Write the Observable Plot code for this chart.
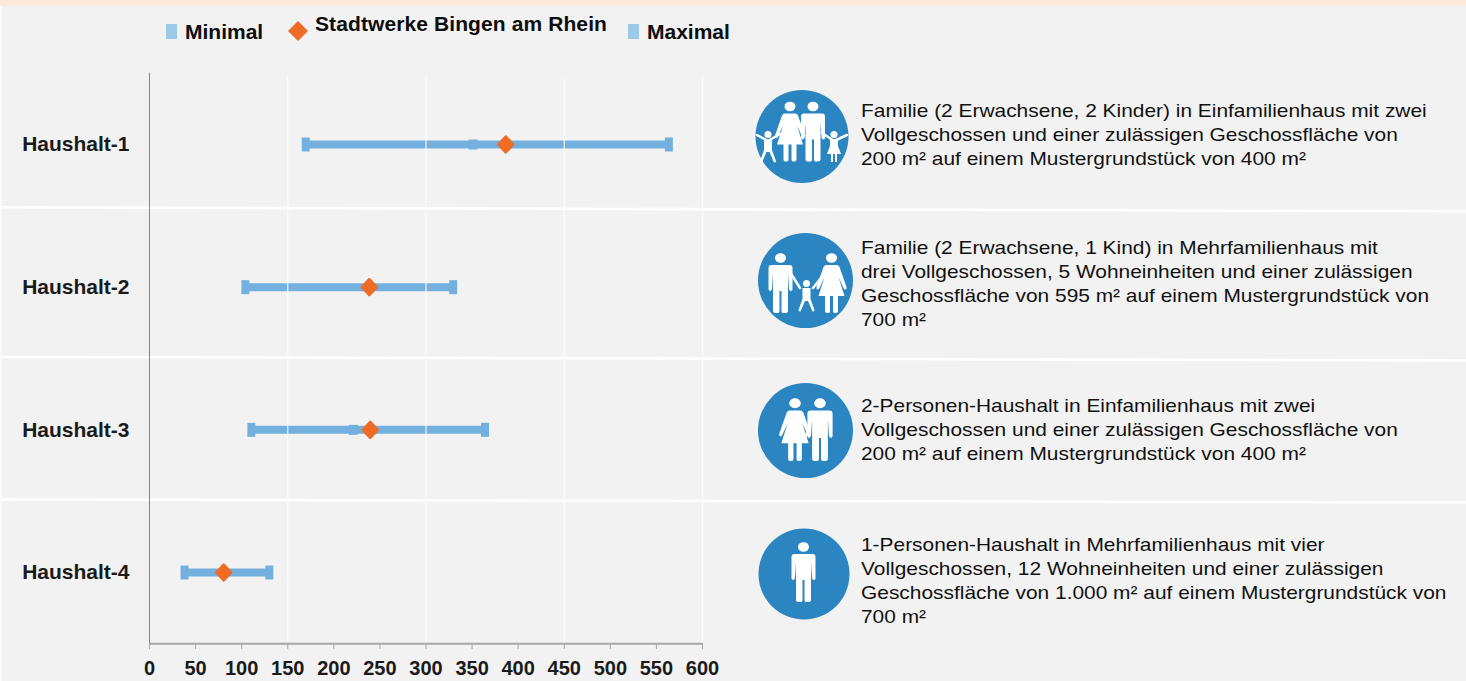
<!DOCTYPE html>
<html lang="de">
<head>
<meta charset="utf-8">
<script src="https://cdn.jsdelivr.net/npm/d3@7"></script>
<script src="https://cdn.jsdelivr.net/npm/@observablehq/plot@0.6"></script>
<style>
html,body{margin:0;padding:0;width:1466px;height:681px;overflow:hidden;background:#f2f2f2;font-family:"Liberation Sans",Arial,sans-serif;}
#stage{position:relative;width:1466px;height:681px;}
#stage svg.plot{position:absolute;left:0;top:0;background:transparent;}
#top{position:absolute;left:0;top:0;width:1466px;height:6px;background:#fde9dc;}
#edge{position:absolute;left:0;top:6px;width:2px;height:675px;background:#fbfbfb;}
.leg{position:absolute;font-weight:bold;font-size:21px;line-height:24px;color:#0d0d0d;white-space:nowrap;}
.sq{position:absolute;width:11px;height:15px;background:#9dc9e8;}
.desc{position:absolute;left:861px;font-size:19px;line-height:24px;color:#111;white-space:nowrap;transform:scaleX(1.1);transform-origin:left top;}
#icons{position:absolute;left:0;top:0;}
</style>
</head>
<body>
<div id="stage">
  <div id="top"></div><div id="edge"></div>
  <div class="sq" style="left:166px;top:24px"></div>
  <div class="leg" style="left:185px;top:20px">Minimal</div>
  <svg width="24" height="24" style="position:absolute;left:286px;top:19px"><path d="M12 2L22 12L12 22L2 12Z" fill="#ee6c25"/></svg>
  <div class="leg" style="left:315px;top:12px;letter-spacing:.1px">Stadtwerke Bingen am Rhein</div>
  <div class="sq" style="left:628px;top:24px"></div>
  <div class="leg" style="left:647px;top:20px">Maximal</div>
  <div id="chart"></div>
  <svg id="icons" width="1466" height="681"></svg>
</div>
<script>
const households = ["Haushalt-1", "Haushalt-2", "Haushalt-3", "Haushalt-4"];
const minimal = [169.5, 104, 110.5, 38];
const maximal = [563.5, 329.5, 364, 130];
const stadtwerke = [386.5, 238.5, 239.5, 80.5];
const innerMark = [351, null, 221, null];
const gridTicks = [150, 300, 450, 600];
const axisTicks = d3.range(0, 601, 50);
const descriptions = [
  ["Familie (2 Erwachsene, 2 Kinder) in Einfamilienhaus mit zwei", "Vollgeschossen und einer zulässigen Geschossfläche von", "200 m² auf einem Mustergrundstück von 400 m²"],
  ["Familie (2 Erwachsene, 1 Kind) in Mehrfamilienhaus mit", "drei Vollgeschossen, 5 Wohneinheiten und einer zulässigen", "Geschossfläche von 595 m² auf einem Mustergrundstück von", "700 m²"],
  ["2-Personen-Haushalt in Einfamilienhaus mit zwei", "Vollgeschossen und einer zulässigen Geschossfläche von", "200 m² auf einem Mustergrundstück von 400 m²"],
  ["1-Personen-Haushalt in Mehrfamilienhaus mit vier", "Vollgeschossen, 12 Wohneinheiten und einer zulässigen", "Geschossfläche von 1.000 m² auf einem Mustergrundstück von", "700 m²"]
];

const rows = households.map((name, i) => ({
  row: i + 1, name, min: minimal[i], max: maximal[i], own: stadtwerke[i], inner: innerMark[i]
}));
const separators = [
  [{x: -160, y: 1.44}, {x: 1428, y: 1.468}],
  [{x: -160, y: 2.489}, {x: 1428, y: 2.514}],
  [{x: -160, y: 3.488}, {x: 1428, y: 3.509}]
];
const capSymbol = {draw(c) { c.rect(-4, -7, 8, 14); }};
const innerSymbol = {draw(c) { c.rect(-4.5, -5, 9, 10); }};
const diamondSymbol = {draw(c) { c.moveTo(0, -8); c.lineTo(7.5, 0); c.lineTo(0, 8); c.lineTo(-7.5, 0); c.closePath(); }};
const blue = "#74b0de";

const chart = Plot.plot({
  width: 1466, height: 681,
  marginLeft: 149, marginRight: 764, marginTop: 73, marginBottom: 38,
  style: {background: "transparent", fontFamily: "'Liberation Sans',Arial,sans-serif"},
  x: {domain: [0, 600], range: [149, 702], label: null},
  y: {domain: [1, 4], range: [144, 572], label: null},
  marks: [
    separators.map(s => Plot.line(s, {x: "x", y: "y", stroke: "#fff", strokeWidth: 2.6})),
    Plot.ruleX([0], {y1: 0.5, y2: 4.5, stroke: "#858585", strokeWidth: 1}),
    Plot.ruleY(rows, {y: "row", x1: "min", x2: "max", stroke: blue, strokeWidth: 8}),
    Plot.dot(rows, {x: "min", y: "row", symbol: capSymbol, fill: blue, r: 5}),
    Plot.dot(rows, {x: "max", y: "row", symbol: capSymbol, fill: blue, r: 5}),
    Plot.dot(rows.filter(d => d.inner != null), {x: "inner", y: "row", symbol: innerSymbol, fill: blue, r: 5}),
    Plot.ruleX(gridTicks, {y1: 0.53, y2: 4.49, stroke: "#fff", strokeWidth: 1.2, strokeOpacity: 0.85}),
    Plot.dot(rows, {x: "own", y: "row", symbol: diamondSymbol, fill: "#ee6c25", stroke: "#ee6c25", strokeWidth: 2.5, strokeLinejoin: "round", r: 5}),
    Plot.ruleY([4.5], {x1: 0, x2: 600, stroke: "#a6a6a6", strokeWidth: 2}),
    Plot.axisX({ticks: axisTicks, tickSize: 6, tickPadding: 11, stroke: "#a6a6a6", fontSize: 20, fontWeight: "bold", fill: "#1a1a1a", tickFormat: d => String(d), label: null}),
    Plot.axisY({ticks: [1, 2, 3, 4], tickSize: 0, tickPadding: 20, fontSize: 21, fontWeight: "bold", fill: "#1a1a1a", tickFormat: d => households[d - 1], label: null})
  ]
});
chart.classList.add("plot");
document.getElementById("chart").appendChild(chart);
chart.querySelectorAll("text").forEach(t => { t.style.fontWeight = "bold"; });

/* descriptions */
const descTops = [99, 236, 394, 533];
descriptions.forEach((lines, i) => {
  const d = document.createElement("div");
  d.className = "desc";
  d.style.top = descTops[i] + "px";
  d.innerHTML = lines.join("<br>");
  document.getElementById("stage").appendChild(d);
});

/* pictograms */
const man = (x, y, s = 1) => `<g transform="translate(${x} ${y}) scale(${s})"><ellipse cx="0" cy="5" rx="5.5" ry="4.8"/><path d="M-9 12H9Q12 12 12 15V36Q12 38 10.5 38Q9 38 8.5 36L7.500 20V58Q7.500 60 5 60H2.500Q1 60 1 58V38H-1V58Q-1 60 -2.500 60H-5Q-7.500 60 -7.500 58V20L-8.500 36Q-9 38 -10.500 38Q-12 38 -12 36V15Q-12 12 -9 12Z"/></g>`;
const woman = (x, y, s = 1) => `<g transform="translate(${x} ${y}) scale(${s})"><ellipse cx="0" cy="5" rx="5.500" ry="4.800"/><path d="M-5 12H5Q7 12 8 14L15 34Q15.500 36 14 36.500Q13 37 12 35L7 24L13 43H6.500V58Q6.500 60 4.500 60H3Q1.500 60 1.500 58V43H-1.500V58Q-1.500 60 -3 60H-4.500Q-6.500 60 -6.500 58V43H-13L-7 24L-12 35Q-13 37 -14 36.500Q-15.500 36 -15 34L-8 14Q-7 12 -5 12Z"/></g>`;
const child = (x, y, skirt) => `<g transform="translate(${x} ${y})"><circle cx="0" cy="3.500" r="3.500"/><path d="M-4 8H4V${skirt ? 15 : 19}${skirt ? "L7 23H3L3 31H1V23H-1V31H-3V23H-7L-4 15" : "L8 30Q8 31.500 6 31.500L1.500 21H-1.500L-6 31.500Q-8 31.500 -8 30L-4 19"}Z"/></g>`;
const icons = [
  {c: [802, 136.500], r: 46.500, body:
    woman(790, 101.500) + man(813, 101.500) + child(768, 131, false) + child(834, 131, true),
    lines: [[757, 135, 768, 141], [768, 141, 780, 134], [822, 133, 834, 141], [834, 141, 847, 135], [797, 124, 806, 124]]},
  {c: [805.500, 280.500], r: 47.500, body:
    man(780.500, 253) + woman(831.500, 253) + child(806.500, 280, false),
    lines: [[790, 272, 800, 288], [813, 288, 821, 278]]},
  {c: [805.500, 430.500], r: 47.500, body:
    woman(795, 398, 1.05) + man(820, 398, 1.05),
    lines: [[806, 436, 809, 428]]},
  {c: [804, 574], r: 45.500, body: man(803.500, 542), lines: []}
];
document.getElementById("icons").innerHTML = icons.map(ic =>
  `<circle cx="${ic.c[0]}" cy="${ic.c[1]}" r="${ic.r}" fill="#2a85c1"/>` +
  `<g fill="#fff">${ic.body}</g>` +
  ic.lines.map(l => `<line x1="${l[0]}" y1="${l[1]}" x2="${l[2]}" y2="${l[3]}" stroke="#fff" stroke-width="2.500" stroke-linecap="round"/>`).join("")
).join("");
</script>
</body>
</html>
